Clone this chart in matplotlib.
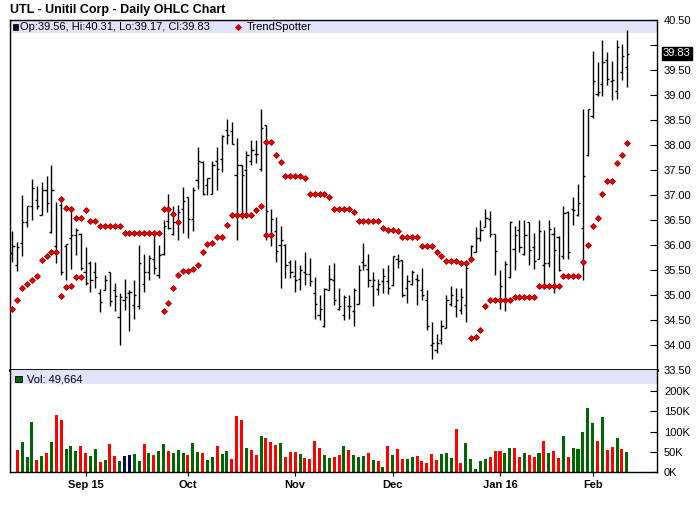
import numpy as np
import matplotlib
matplotlib.use("Agg")
import matplotlib.pyplot as plt
from matplotlib.patches import Rectangle

plt.rcParams['font.family'] = ['Liberation Sans', 'DejaVu Sans']

# daily OHLC, Aug 11 2015 .. Feb 10 2016 (127 sessions)
opens = [35.85, 35.61, 36.05, 36.45, 36.78, 36.91, 36.60, 37.09, 36.26, 35.99,
         36.81, 35.99, 36.13, 36.21, 36.23, 35.47, 35.65, 35.45, 35.05, 35.10,
         35.45, 35.09, 34.57, 34.91, 35.05, 34.81, 34.77, 35.22, 35.45, 35.73,
         35.40, 35.83, 36.49, 36.23, 36.45, 36.73, 36.95, 36.53, 37.31, 37.67,
         37.21, 37.03, 37.69, 37.73, 38.30, 38.27, 37.41, 37.59, 37.50, 37.68,
         37.83, 37.53, 38.40, 36.21, 36.28, 36.01, 36.01, 35.67, 35.39, 35.33,
         35.46, 35.42, 35.05, 34.60, 34.38, 35.10, 35.30, 34.73, 34.61, 34.77,
         34.69, 34.82, 35.67, 35.53, 35.18, 35.12, 35.27, 35.27, 35.20, 35.72,
         35.70, 35.13, 35.22, 35.33, 35.10, 34.90, 34.00, 33.90, 34.11, 34.35,
         34.83, 34.77, 34.71, 34.81, 35.68, 35.87, 36.13, 36.37, 36.53, 36.22,
         34.90, 34.90, 35.37, 35.93, 36.31, 35.83, 36.45, 35.95, 35.73, 35.61,
         35.63, 36.23, 36.17, 35.79, 36.66, 36.73, 36.60, 36.35, 37.80, 38.58,
         39.03, 39.22, 39.71, 39.28, 39.08, 39.45, 39.56]
highs = [36.28, 36.07, 37.00, 36.78, 37.32, 37.18, 37.26, 37.38, 37.60, 36.86,
         36.90, 36.03, 36.77, 36.35, 36.24, 35.96, 35.68, 35.66, 35.12, 35.41,
         35.45, 35.25, 35.05, 35.32, 35.11, 35.30, 36.00, 35.82, 35.81, 36.23,
         36.00, 36.50, 37.02, 36.78, 36.80, 37.16, 36.96, 37.16, 37.96, 37.68,
         37.35, 37.68, 37.96, 38.20, 38.53, 38.47, 38.15, 37.60, 37.88, 38.10,
         38.11, 38.73, 38.40, 36.72, 36.57, 36.38, 36.02, 35.70, 35.71, 35.60,
         35.86, 35.74, 35.37, 35.00, 35.13, 35.61, 35.65, 35.13, 35.01, 35.01,
         35.15, 35.61, 36.05, 35.82, 35.47, 35.32, 35.55, 35.60, 35.78, 35.83,
         35.70, 35.40, 35.50, 35.43, 35.55, 35.10, 34.45, 34.22, 34.50, 35.00,
         35.18, 35.14, 35.13, 35.67, 36.00, 36.37, 36.50, 36.73, 36.68, 36.22,
         35.50, 35.68, 36.49, 36.39, 36.50, 36.50, 36.45, 36.25, 36.50, 36.30,
         36.50, 36.37, 36.18, 36.78, 36.68, 36.97, 37.23, 38.73, 38.73, 39.88,
         39.66, 40.10, 39.86, 39.68, 40.10, 40.02, 40.31]
lows = [35.67, 35.49, 35.77, 36.37, 36.50, 36.72, 36.59, 36.67, 36.25, 35.63,
        35.40, 35.31, 35.53, 35.80, 35.51, 35.20, 35.07, 35.13, 34.67, 35.09,
        34.79, 34.69, 34.00, 34.70, 34.27, 34.52, 34.72, 35.07, 35.30, 35.43,
        35.35, 35.81, 36.32, 36.21, 36.09, 36.25, 36.15, 36.27, 37.12, 37.00,
        37.01, 37.03, 37.11, 37.47, 38.02, 38.02, 36.09, 36.53, 36.63, 37.61,
        37.63, 37.48, 36.11, 35.99, 35.67, 35.13, 35.35, 35.35, 35.07, 35.10,
        35.20, 35.18, 34.53, 34.50, 34.37, 35.09, 34.81, 34.70, 34.51, 34.53,
        34.38, 34.82, 35.50, 35.17, 34.77, 35.01, 35.05, 35.03, 35.19, 35.55,
        34.95, 34.85, 35.21, 34.81, 34.91, 34.31, 33.73, 33.85, 34.03, 34.35,
        34.77, 34.57, 34.62, 34.45, 35.67, 35.87, 36.08, 36.37, 36.17, 35.41,
        34.73, 34.69, 35.35, 35.51, 35.87, 35.81, 35.59, 35.53, 35.73, 35.17,
        35.57, 35.05, 35.49, 35.73, 35.73, 36.41, 36.58, 35.31, 37.79, 38.55,
        38.99, 38.99, 39.21, 38.91, 38.93, 39.30, 39.17]
closes = [35.98, 35.96, 36.45, 36.77, 37.13, 36.77, 37.09, 36.85, 37.11, 35.87,
          35.47, 36.02, 36.20, 36.31, 35.55, 35.25, 35.31, 35.37, 34.87, 35.31,
          34.89, 34.99, 34.97, 34.95, 35.07, 35.01, 35.63, 35.47, 35.75, 35.54,
          35.81, 36.38, 36.35, 36.47, 36.67, 36.88, 36.53, 37.09, 37.69, 37.03,
          37.35, 37.60, 37.52, 38.19, 38.20, 38.03, 37.60, 37.40, 37.81, 37.90,
          37.83, 38.35, 36.68, 36.53, 35.88, 36.10, 35.60, 35.45, 35.30, 35.50,
          35.43, 35.27, 34.82, 34.73, 35.12, 35.32, 34.90, 34.77, 34.97, 34.77,
          35.09, 35.50, 35.59, 35.31, 35.30, 35.23, 35.38, 35.13, 35.77, 35.69,
          35.01, 35.27, 35.45, 35.31, 35.00, 34.38, 34.05, 34.05, 34.38, 34.90,
          35.01, 34.90, 34.95, 35.55, 35.99, 36.15, 36.30, 36.55, 36.23, 35.88,
          35.19, 35.62, 36.45, 36.21, 35.95, 36.20, 35.91, 35.68, 36.28, 35.63,
          36.33, 35.90, 35.51, 36.63, 35.86, 36.71, 36.85, 37.38, 38.73, 39.27,
          39.06, 39.67, 39.33, 39.30, 39.95, 39.78, 39.83]

# TrendSpotter dots (two runs overlap on reversal days)
ts_upper = [None, None, None, None, None, None, None, None, None, None,
            36.93, 36.75, 36.73, 36.55, 36.55, 36.71, 36.49, 36.49, 36.39, 36.39,
            36.39, 36.39, 36.39, 36.25, 36.25, 36.25, 36.25, 36.25, 36.25, 36.25,
            36.25, 36.73, 36.73, 36.62, 36.46, None, None, None, None, None,
            None, None, None, None, None, None, None, None, None, None,
            None, None, 38.07, 38.07, 37.81, 37.67, 37.39, 37.39, 37.39, 37.39,
            37.35, 37.03, 37.03, 37.03, 37.03, 36.97, 36.73, 36.73, 36.73, 36.73,
            36.67, 36.49, 36.49, 36.49, 36.49, 36.49, 36.35, 36.31, 36.31, 36.27,
            36.17, 36.17, 36.17, 36.17, 35.99, 35.99, 35.99, 35.87, 35.77, 35.69,
            35.69, 35.69, 35.65, 35.65, 35.73, None, None, None, None, None,
            None, None, None, None, None, None, None, None, None, None,
            None, None, None, None, None, None, None, None, None, None,
            None, None, None, None, None, None, None]
ts_lower = [34.73, 34.91, 35.13, 35.23, 35.31, 35.38, 35.71, 35.78, 35.87, 35.87,
            34.99, 35.17, 35.19, 35.37, 35.37, None, None, None, None, None,
            None, None, None, None, None, None, None, None, None, None,
            None, 34.69, 34.85, 35.13, 35.41, 35.49, 35.49, 35.53, 35.59, 35.87,
            36.03, 36.05, 36.17, 36.17, 36.41, 36.59, 36.59, 36.59, 36.59, 36.59,
            36.71, 36.77, 36.21, 36.21, None, None, None, None, None, None,
            None, None, None, None, None, None, None, None, None, None,
            None, None, None, None, None, None, None, None, None, None,
            None, None, None, None, None, None, None, None, None, None,
            None, None, None, None, 34.15, 34.17, 34.31, 34.77, 34.91, 34.91,
            34.91, 34.91, 34.91, 34.95, 34.95, 34.95, 34.95, 34.95, 35.19, 35.19,
            35.19, 35.19, 35.19, 35.39, 35.39, 35.39, 35.39, 35.67, 36.01, 36.39,
            36.55, 37.03, 37.29, 37.29, 37.63, 37.81, 38.05]

# volume in thousands (first session not shown)
volume = [None,
          54.3, 74.1, 37.1, 123.5, 29.6, 39.5, 46.9, 74.1, 140.7, 128.4,
          56.8, 64.2, 51.9, 64.2, 46.9, 39.5, 56.8, 24.7, 29.6, 69.2,
          39.5, 27.2, 39.5, 42.0, 44.5, 27.2, 69.2, 46.9, 42.0, 51.9,
          69.2, 51.9, 46.9, 54.3, 46.9, 42.0, 71.6, 49.4, 46.9, 29.6,
          37.1, 64.2, 44.5, 51.9, 32.1, 138.3, 128.4, 59.3, 54.3, 42.0,
          88.9, 84.0, 74.1, 66.7, 71.6, 37.1, 49.4, 49.4, 44.5, 34.6,
          32.1, 76.6, 59.3, 42.0, 34.6, 37.1, 42.0, 64.2, 54.3, 42.0,
          37.1, 39.5, 46.9, 29.6, 27.2, 12.4, 64.2, 42.0, 56.8, 32.1,
          32.1, 37.1, 39.5, 27.2, 22.2, 44.5, 29.6, 44.5, 46.9, 34.6,
          106.2, 22.2, 71.6, 32.1, 7.4, 27.2, 32.1, 37.1, 51.9, 51.9,
          46.9, 59.3, 59.3, 37.1, 46.9, 42.0, 37.1, 46.9, 76.6, 46.9,
          51.9, 34.6, 88.9, 37.1, 59.3, 56.8, 98.8, 158.0, 121.0, 76.6,
          135.8, 54.3, 61.7, 84.0, 56.8, 49.7]
# u = up close, d = down close, n = unchanged
vol_dir = (" duuudududd" "uuudduudud" "dunnuududu" "uduuuduudu" "uduudddudd"
           "udddudddud" "ddduuddudu" "uududududd" "uuddddduuu" "dduuuuuddd"
           "uudduddudu" "dduduuuuud" "uddudu")

month_pos = [15, 36, 58, 78, 100, 119]
month_lbl = ['Sep 15', 'Oct', 'Nov', 'Dec', 'Jan 16', 'Feb']

W, H = 700, 512
fig = plt.figure(figsize=(W / 100, H / 100), dpi=100)
ax = fig.add_axes([10 / W, 1 - 370 / H, 647 / W, 350 / H])
axv = fig.add_axes([10 / W, 1 - 472 / H, 647 / W, 102 / H])

x = np.arange(len(closes))
xlim = (-0.49, 132.2)

# price panel
ax.axhspan(40.24, 40.5, color='#E2E2F8', zorder=0, lw=0)
ax.vlines(x, lows, highs, color='black', lw=1.0, zorder=2)
ax.hlines(opens, x - 0.45, x, color='black', lw=1, zorder=2)
ax.hlines(closes, x, x + 0.45, color='black', lw=1, zorder=2)
for ts in (ts_upper, ts_lower):
    ax.plot(x, np.array(ts, dtype=float), ls='none', marker='D', ms=3.0,
            mfc='#EE0000', mec='#990000', mew=0.6, zorder=3)
ax.set_xlim(*xlim)
ax.set_ylim(33.5, 40.5)
ax.yaxis.tick_right()
yt = [33.5, 34.0, 34.5, 35.0, 35.5, 36.0, 36.5, 37.0, 37.5, 38.0, 38.5, 39.0, 39.5, 40.0, 40.5]
ax.set_yticks(yt)
ax.set_yticklabels(['' if v == 40.0 else f'{v:.2f}' for v in yt])
ax.tick_params(axis='y', direction='in', length=5, pad=5, labelsize=8)
ax.set_xticks([])
for s in ('left', 'top', 'right'):
    ax.spines[s].set_linewidth(1)
ax.spines['bottom'].set_linewidth(2)
ax.text(1.009, closes[-1], f'{closes[-1]:.2f}', transform=ax.get_yaxis_transform(),
        ha='left', va='center', fontsize=8, color='white',
        bbox=dict(boxstyle='square,pad=0.1', fc='black', ec='black'))

# volume panel
vcol = {'u': '#006600', 'd': '#FF0000', 'n': '#000066'}
vx = x[1:]
vv = np.array(volume[1:], dtype=float)
axv.axhspan(252 - 34.6, 252, color='#E2E2F8', zorder=0, lw=0)
axv.bar(vx, vv, width=0.62, color=[vcol[d] for d in vol_dir[1:]], zorder=2)
axv.set_xlim(*xlim)
axv.set_ylim(0, 252)
axv.yaxis.tick_right()
axv.set_yticks([0, 50, 100, 150, 200])
axv.set_yticklabels(['0K', '50K', '100K', '150K', '200K'])
axv.tick_params(axis='y', direction='in', length=5, pad=5, labelsize=8)
axv.set_xticks(month_pos)
axv.set_xticklabels(month_lbl, fontweight='bold', fontsize=8)
axv.tick_params(axis='x', direction='out', length=3, pad=3)
axv.spines['top'].set_visible(False)
for s in ('left', 'right', 'bottom'):
    axv.spines[s].set_linewidth(1)

# title and header legends
def px(xp, yp):
    return xp / W, 1 - yp / H

fig.text(*px(10, 10), 'UTL - Unitil Corp - Daily OHLC Chart', fontsize=9,
         fontweight='bold', va='center', ha='left')
fig.patches.append(Rectangle(px(12.5, 29.5), 5 / W, 5.5 / H, transform=fig.transFigure,
                             fc='black', ec='black', lw=0.5))
fig.text(*px(20, 26.5), f'Op:{opens[-1]:.2f}, Hi:{highs[-1]:.2f}, Lo:{lows[-1]:.2f}, Cl:{closes[-1]:.2f}',
         fontsize=8, va='center', ha='left')
fig.lines.append(plt.Line2D([238 / W], [1 - 26.5 / H], transform=fig.transFigure,
                            marker='D', ms=3.0, mfc='#EE0000', mec='#990000', mew=0.6))
fig.text(*px(247, 26.5), 'TrendSpotter', fontsize=8, va='center', ha='left')
fig.patches.append(Rectangle(px(15, 382), 6.5 / W, 6 / H, transform=fig.transFigure,
                             fc='#006600', ec='black', lw=0.6))
fig.text(*px(27, 379), 'Vol: 49,664', fontsize=8, va='center', ha='left')

fig.savefig('out.png', dpi=100)
